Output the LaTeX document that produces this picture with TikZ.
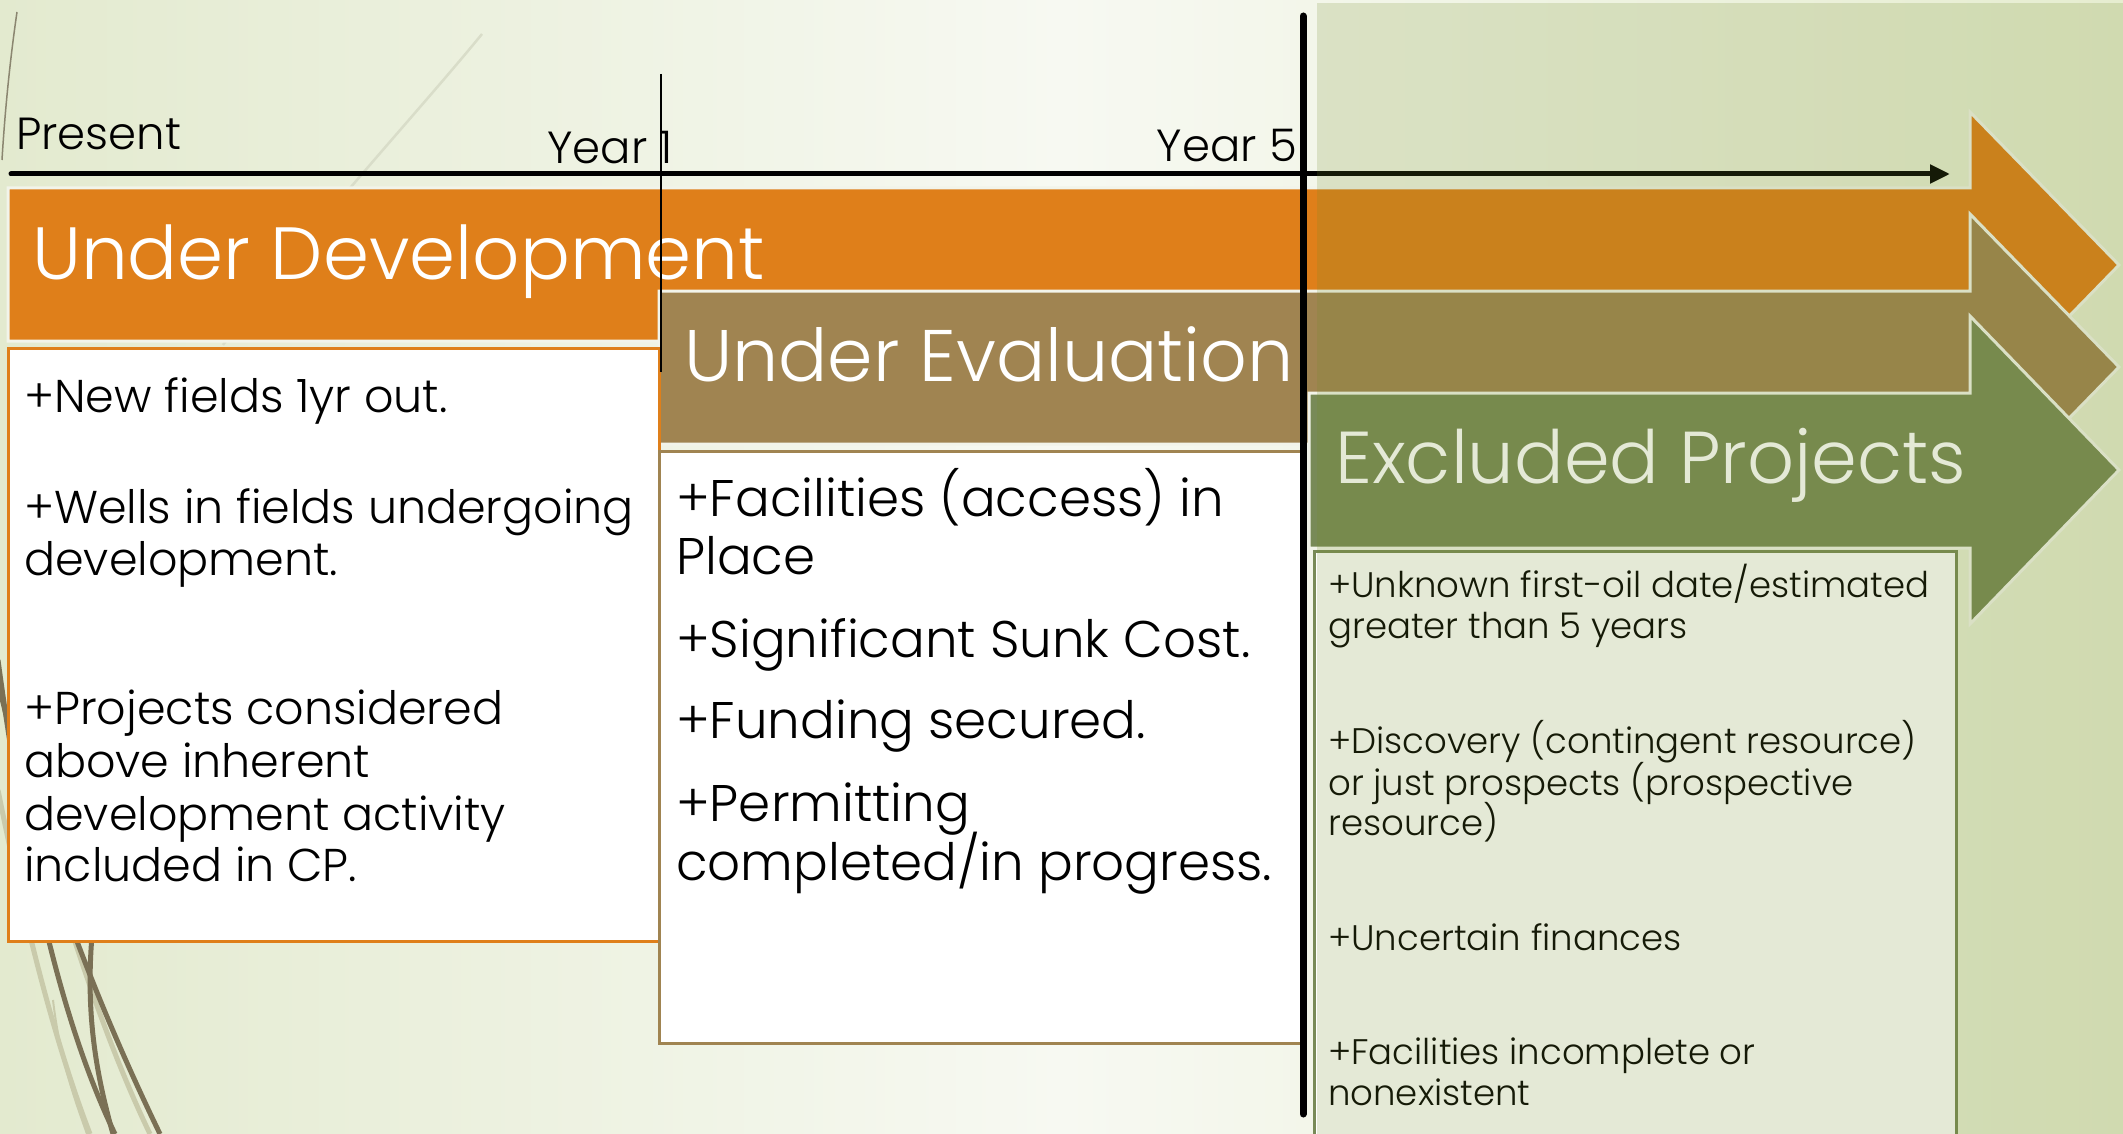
\documentclass[tikz,border=0pt]{standalone}
\usepackage{fontspec}
\IfFontExistsTF{Poppins Light}{\setmainfont{Poppins Light}}{\setmainfont{Poppins}}
\usetikzlibrary{arrows.meta}
\definecolor{orangeC}{HTML}{DF7F1A}
\definecolor{brownC}{HTML}{A08451}
\definecolor{greenC}{HTML}{788A57}
\definecolor{panelC}{RGB}{115,139,39}
\definecolor{edgeC}{HTML}{F2F4EA}
\definecolor{bgL}{HTML}{E3EACF}
\definecolor{bgM}{HTML}{F7F9F2}
\definecolor{bgR}{HTML}{E6EDD0}
\definecolor{wispD}{HTML}{7A7055}
\definecolor{wispL}{HTML}{C9CAAB}
\definecolor{wispT}{HTML}{8B8670}
\definecolor{wispF}{HTML}{D9DDC9}
\begin{document}
\begin{tikzpicture}[x=1pt,y=-1pt,
  lbl/.style={font=\fontsize{45}{50}\selectfont, inner sep=0pt, text=black},
  ttl/.style={font=\fontsize{74}{80}\selectfont, inner sep=0pt, text=white, anchor=base west},
  bodyA/.style={font=\fontsize{46}{53}\selectfont, inner sep=0pt, text=black, anchor=base west},
  bodyB/.style={font=\fontsize{51.5}{58}\selectfont, inner sep=0pt, text=black, anchor=base west},
  bodyC/.style={font=\fontsize{35.5}{41}\selectfont, inner sep=0pt, text=black, anchor=base west},
  bar/.style={draw=edgeC, line width=3pt, line join=miter},
  tbox/.style={fill=white, line width=3pt},
  wispdark/.style={draw=wispD, line width=5pt},
  wisplight/.style={draw=wispL, line width=5pt},
]
\useasboundingbox (0,0) rectangle (2123,1134);
% background
\shade[left color=bgL, right color=bgR, middle color=bgM] (0,0) rectangle (2123,1134);
% wisps
\draw[wispT, line width=1.5pt] (17,12) .. controls (10,60) and (5,110) .. (2,160);
\draw[wispF, line width=2.5pt] (482,34) .. controls (420,110) and (300,240) .. (223,345);
\draw[wisplight] (-2,790) .. controls (20,900) and (50,1030) .. (90,1134);
\draw[wisplight] (20,760) .. controls (60,900) and (100,1030) .. (150,1134);
\draw[wispL, line width=2pt] (53,1000) .. controls (60,1060) and (75,1100) .. (87,1134);
\draw[wispdark] (-2,660) .. controls (25,860) and (60,1020) .. (115,1134);
\draw[wispdark] (0,690) .. controls (40,860) and (100,1010) .. (160,1134);
\draw[wispdark] (96,900) .. controls (82,1000) and (95,1070) .. (113,1134);
% arrows / bars
\path[bar, fill=orangeC] (8,188) -- (1970,188) -- (1970,112) -- (2119,265) -- (1970,418) -- (1970,341) -- (8,341) -- cycle;
\path[bar, fill=brownC] (659,291) -- (1970,291) -- (1970,214) -- (2119,367) -- (1970,520) -- (1970,444) -- (659,444) -- cycle;
\path[bar, fill=greenC] (1309,393) -- (1970,393) -- (1970,316) -- (2119,470) -- (1970,624) -- (1970,548) -- (1309,548) -- cycle;
% titles
\node[ttl] (tdev) at (32,279) {Under Development};
\node[ttl, font=\fontsize{73}{78}\selectfont] (teval) at (684,381) {Under Evaluation};
\node[ttl, font=\fontsize{73.5}{78}\selectfont] (texcl) at (1335,483) {Excluded Projects};
% text boxes
\draw[tbox, draw=orangeC] (8,348) rectangle (659,941);
\draw[tbox, draw=brownC] (659,451) rectangle (1303,1043);
\draw[tbox, draw=greenC] (1314,551) rectangle (1956,1150);
% box 1 text
\node[bodyA] (a1) at (24,412) {+New fields 1yr out.};
\node[bodyA] (a2) at (24,523) {+Wells in fields undergoing};
\node[bodyA] (a3) at (24,575) {development.};
\node[bodyA] (a4) at (24,724) {+Projects considered};
\node[bodyA] (a5) at (24,777) {above inherent};
\node[bodyA] (a6) at (24,830) {development activity};
\node[bodyA] (a7) at (24,881) {included in CP.};
% box 2 text
\node[bodyB] (b1) at (676,516) {+Facilities (access) in};
\node[bodyB] (b2) at (676,574) {Place};
\node[bodyB] (b3) at (676,657) {+Significant Sunk Cost.};
\node[bodyB] (b4) at (676,738) {+Funding secured.};
\node[bodyB] (b5) at (676,821) {+Permitting};
\node[bodyB] (b6) at (676,880) {completed/in progress.};
% box 3 text
\node[bodyC] (c1) at (1328,597) {+Unknown first-oil date/estimated};
\node[bodyC] (c2) at (1328,638) {greater than 5 years};
\node[bodyC] (c3) at (1328,753) {+Discovery (contingent resource)};
\node[bodyC] (c4) at (1328,795) {or just prospects (prospective};
\node[bodyC] (c5) at (1328,835) {resource)};
\node[bodyC] (c6) at (1328,950) {+Uncertain finances};
\node[bodyC] (c7) at (1328,1064) {+Facilities incomplete or};
\node[bodyC] (c8) at (1328,1105) {nonexistent};
% timeline
\coordinate (tl0) at (11,174);
\coordinate (tl1) at (1950,174);
\draw[line width=5pt, line cap=round, -{Triangle[length=20pt,width=18pt]}] (tl0) -- (tl1);
\node[lbl, anchor=base west] (present) at (16,150) {Present};
\node[lbl, anchor=base east] (year1) at (673,164) {Year 1};
\node[lbl, anchor=base east] (year5) at (1297,162) {Year 5};
% year markers
\coordinate (y1top) at (661,74);
\coordinate (y1bot) at (661,372);
\draw[line width=2pt] (y1top) -- (y1bot);
% right panel overlay
\fill[panelC, opacity=0.19] (1317,3) rectangle (2123,1134);
\coordinate (y5top) at (1303,16);
\coordinate (y5bot) at (1303,1114);
\draw[line width=7pt, line cap=round] (y5top) -- (y5bot);
\end{tikzpicture}
\end{document}
